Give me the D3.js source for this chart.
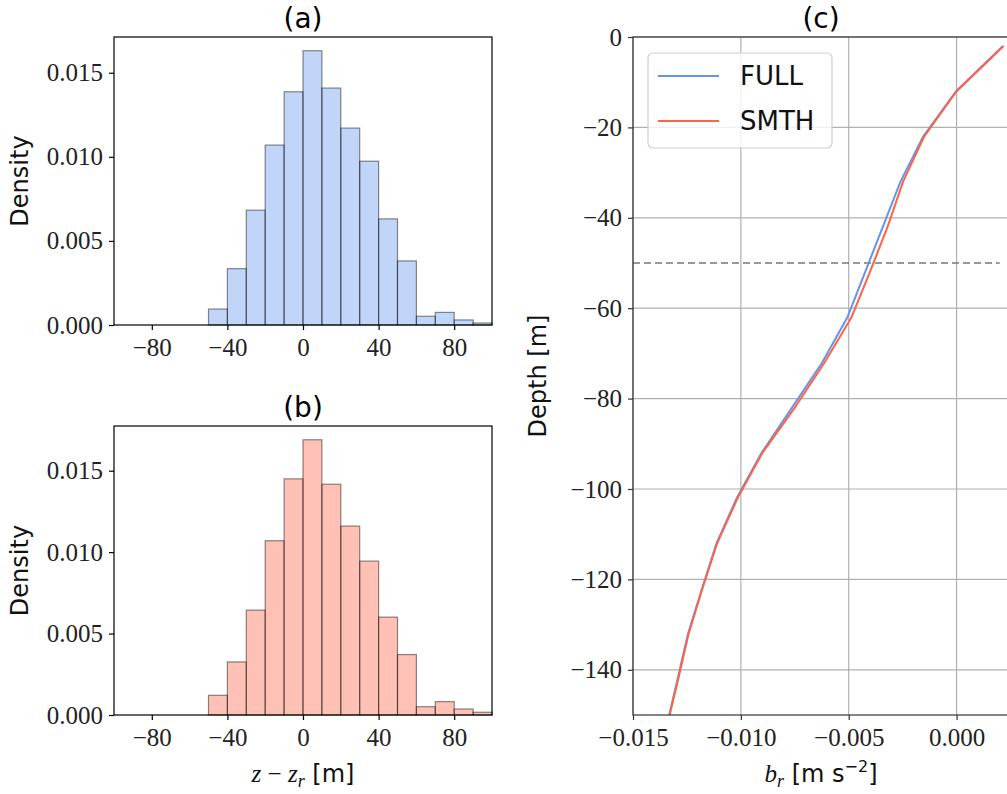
<!DOCTYPE html>
<html>
<head>
<meta charset="utf-8">
<script src="https://cdn.jsdelivr.net/npm/d3@7"></script>
<style>
  body { margin: 0; background: #fff; }
  svg { display: block; }
</style>
</head>
<body>
<div id="chart"></div>
<script>
// ---- data ----
const binStarts = [-50, -40, -30, -20, -10, 0, 10, 20, 30, 40, 50, 60, 70, 80, 90];
const binWidth = 10;
const densityFull = [0.00095, 0.00335, 0.00683, 0.0107, 0.01387, 0.01631, 0.01409, 0.01171,
                     0.00974, 0.00631, 0.00381, 0.00052, 0.00075, 0.0003, 0.00012];
const densitySmth = [0.00121, 0.00326, 0.00644, 0.0107, 0.0145, 0.0169, 0.01417, 0.0116,
                     0.00945, 0.00601, 0.00371, 0.00051, 0.00082, 0.00037, 0.00017];
const histTicks = [-80, -40, 0, 40, 80];
const densityTicks = [0, 0.005, 0.010, 0.015];

const depths = [-2, -12, -22, -32, -42, -52, -62, -72, -82, -92, -102, -112, -122, -132, -142, -152];
const bFull = [0.00215, -0.00002, -0.00155, -0.0026, -0.00342, -0.00424, -0.00506, -0.00623,
               -0.00763, -0.00904, -0.01019, -0.01113, -0.0118, -0.01245, -0.01293, -0.01342];
const bSmth = [0.00218, 0.0, -0.0015, -0.00248, -0.0032, -0.00402, -0.00487, -0.00612,
               -0.0075, -0.009, -0.01015, -0.0111, -0.01178, -0.01242, -0.0129, -0.0134];
const depthTicks = [0, -20, -40, -60, -80, -100, -120, -140];
const bTicks = [-0.015, -0.010, -0.005, 0.000];
const mixedLayerDepth = -50;

const colFull = "#6495ed";
const colSmth = "#ff6347";

// ---- setup ----
const W = 1007, H = 794;
const svg = d3.select("#chart").append("svg").attr("width", W).attr("height", H);

const serif = "'Liberation Serif', 'DejaVu Serif', serif";
const sans = "'DejaVu Sans', sans-serif";
const tickFont = 25;

function styleAxis(g, color) {
  g.select(".domain").remove();
  g.selectAll(".tick line").attr("stroke", color).attr("stroke-width", 1.2);
  g.selectAll(".tick text")
    .attr("fill", "#222")
    .style("font-family", serif)
    .style("font-size", tickFont + "px");
}

// ---- histograms ----
function drawHist(box, values, color, title, showXLabel) {
  const x = d3.scaleLinear().domain([-100, 100]).range([box.x0, box.x1]);
  const y = d3.scaleLinear().domain([0, d3.max(values) * 1.05]).range([box.y1, box.y0]);

  const g = svg.append("g");

  g.selectAll("rect.bar")
    .data(binStarts)
    .enter()
    .append("rect")
    .attr("class", "bar")
    .attr("x", d => x(d))
    .attr("width", d => x(d + binWidth) - x(d))
    .attr("y", (d, i) => y(values[i]))
    .attr("height", (d, i) => y(0) - y(values[i]))
    .attr("fill", color)
    .attr("fill-opacity", 0.4)
    .attr("stroke", "#000")
    .attr("stroke-opacity", 0.45)
    .attr("stroke-width", 1.2);

  const xa = g.append("g")
    .attr("transform", `translate(0,${box.y1})`)
    .call(d3.axisBottom(x).tickValues(histTicks).tickFormat(d3.format("d")).tickSize(5).tickPadding(5));
  styleAxis(xa, "#000");
  xa.selectAll(".tick text").attr("dy", "0.85em");

  const ya = g.append("g")
    .attr("transform", `translate(${box.x0},0)`)
    .call(d3.axisLeft(y).tickValues(densityTicks).tickFormat(d3.format(".3f")).tickSize(5).tickPadding(6));
  styleAxis(ya, "#000");

  g.append("rect")
    .attr("x", box.x0).attr("y", box.y0)
    .attr("width", box.x1 - box.x0).attr("height", box.y1 - box.y0)
    .attr("fill", "none").attr("stroke", "#000").attr("stroke-width", 1.2);

  g.append("text")
    .attr("x", (box.x0 + box.x1) / 2).attr("y", box.y0 - 9)
    .attr("text-anchor", "middle")
    .style("font-family", sans).style("font-size", "28px")
    .text(title);

  g.append("text")
    .attr("transform", `translate(28,${(box.y0 + box.y1) / 2}) rotate(-90)`)
    .attr("text-anchor", "middle")
    .style("font-family", sans).style("font-size", "24px")
    .attr("fill", "#111")
    .text("Density");

  if (showXLabel) {
    const t = g.append("text")
      .attr("x", (box.x0 + box.x1) / 2).attr("y", 782)
      .attr("text-anchor", "middle")
      .style("font-size", "25px").attr("fill", "#111");
    t.append("tspan").style("font-family", serif).style("font-style", "italic").text("z");
    t.append("tspan").style("font-family", serif).text(" \u2212 ");
    t.append("tspan").style("font-family", serif).style("font-style", "italic").text("z");
    t.append("tspan").style("font-family", serif).style("font-style", "italic")
      .style("font-size", "18px").attr("dy", 5).text("r");
    t.append("tspan").style("font-family", sans).attr("dy", -5).style("font-size", "24px").text(" [m]");
  }
}

drawHist({ x0: 114, x1: 492, y0: 37, y1: 325 }, densityFull, colFull, "(a)", false);
drawHist({ x0: 114, x1: 492, y0: 426, y1: 715 }, densitySmth, colSmth, "(b)", true);

// ---- profile panel (c) ----
const cb = { x0: 633, x1: 1009, y0: 37, y1: 715 };
const xc = d3.scaleLinear().domain([-0.015, 0.00243]).range([cb.x0, cb.x1]);
const yc = d3.scaleLinear().domain([-150, 0]).range([cb.y1, cb.y0]);

const gc = svg.append("g");

gc.append("clipPath").attr("id", "clipc")
  .append("rect").attr("x", cb.x0).attr("y", cb.y0)
  .attr("width", cb.x1 - cb.x0).attr("height", cb.y1 - cb.y0);

// grid
gc.append("g").selectAll("line")
  .data(bTicks)
  .enter().append("line")
  .attr("x1", d => xc(d)).attr("x2", d => xc(d))
  .attr("y1", cb.y0).attr("y2", cb.y1)
  .attr("stroke", "#b0b0b0").attr("stroke-width", 1.2);
gc.append("g").selectAll("line")
  .data(depthTicks)
  .enter().append("line")
  .attr("x1", cb.x0).attr("x2", cb.x1)
  .attr("y1", d => yc(d)).attr("y2", d => yc(d))
  .attr("stroke", "#b0b0b0").attr("stroke-width", 1.2);

// mixed layer depth marker
gc.append("line")
  .attr("x1", xc(-0.015)).attr("x2", xc(0.002))
  .attr("y1", yc(mixedLayerDepth)).attr("y2", yc(mixedLayerDepth))
  .attr("stroke", "#777").attr("stroke-width", 1.6)
  .attr("stroke-dasharray", "7,4");

const lineGen = vals => d3.line()
  .x((d, i) => xc(vals[i]))
  .y(d => yc(d))(depths);

gc.append("path").attr("d", lineGen(bFull))
  .attr("clip-path", "url(#clipc)")
  .attr("fill", "none").attr("stroke", colFull).attr("stroke-width", 2);
gc.append("path").attr("d", lineGen(bSmth))
  .attr("clip-path", "url(#clipc)")
  .attr("fill", "none").attr("stroke", colSmth).attr("stroke-width", 2);

const xca = gc.append("g")
  .attr("transform", `translate(0,${cb.y1})`)
  .call(d3.axisBottom(xc).tickValues(bTicks).tickFormat(d3.format(".3f")).tickSize(5).tickPadding(5));
styleAxis(xca, "#333");
xca.selectAll(".tick text").attr("dy", "0.85em");

const yca = gc.append("g")
  .attr("transform", `translate(${cb.x0},0)`)
  .call(d3.axisLeft(yc).tickValues(depthTicks).tickFormat(d3.format("d")).tickSize(5).tickPadding(6));
styleAxis(yca, "#333");

gc.append("rect")
  .attr("x", cb.x0).attr("y", cb.y0)
  .attr("width", cb.x1 - cb.x0).attr("height", cb.y1 - cb.y0)
  .attr("fill", "none").attr("stroke", "#333").attr("stroke-width", 1.2);

gc.append("text")
  .attr("x", (cb.x0 + cb.x1) / 2).attr("y", cb.y0 - 9)
  .attr("text-anchor", "middle")
  .style("font-family", sans).style("font-size", "28px")
  .text("(c)");

gc.append("text")
  .attr("transform", `translate(546,${(cb.y0 + cb.y1) / 2}) rotate(-90)`)
  .attr("text-anchor", "middle")
  .style("font-family", sans).style("font-size", "24px")
  .attr("fill", "#111")
  .text("Depth [m]");

const xl = gc.append("text")
  .attr("x", (cb.x0 + cb.x1) / 2).attr("y", 782)
  .attr("text-anchor", "middle")
  .style("font-size", "25px").attr("fill", "#111");
xl.append("tspan").style("font-family", serif).style("font-style", "italic").text("b");
xl.append("tspan").style("font-family", serif).style("font-style", "italic")
  .style("font-size", "18px").attr("dy", 5).text("r");
xl.append("tspan").style("font-family", sans).style("font-size", "24px").attr("dy", -5).text(" [m s");
xl.append("tspan").style("font-family", sans).style("font-size", "16px").attr("dy", -10).text("\u22122");
xl.append("tspan").style("font-family", sans).style("font-size", "24px").attr("dy", 10).text("]");

// legend
const legend = gc.append("g").attr("transform", `translate(${cb.x0 + 15},${cb.y0 + 16})`);
legend.append("rect")
  .attr("width", 184).attr("height", 95).attr("rx", 5)
  .attr("fill", "#fff").attr("fill-opacity", 0.8)
  .attr("stroke", "#d0d0d0").attr("stroke-width", 1.2);
[["FULL", colFull], ["SMTH", colSmth]].forEach(([name, c], i) => {
  const row = legend.append("g").attr("transform", `translate(0,${23 + i * 45})`);
  row.append("line").attr("x1", 10).attr("x2", 71)
    .attr("stroke", c).attr("stroke-width", 2);
  row.append("text").attr("x", 92).attr("y", 9)
    .style("font-family", sans).style("font-size", "26px").attr("fill", "#111")
    .text(name);
});
</script>
</body>
</html>
